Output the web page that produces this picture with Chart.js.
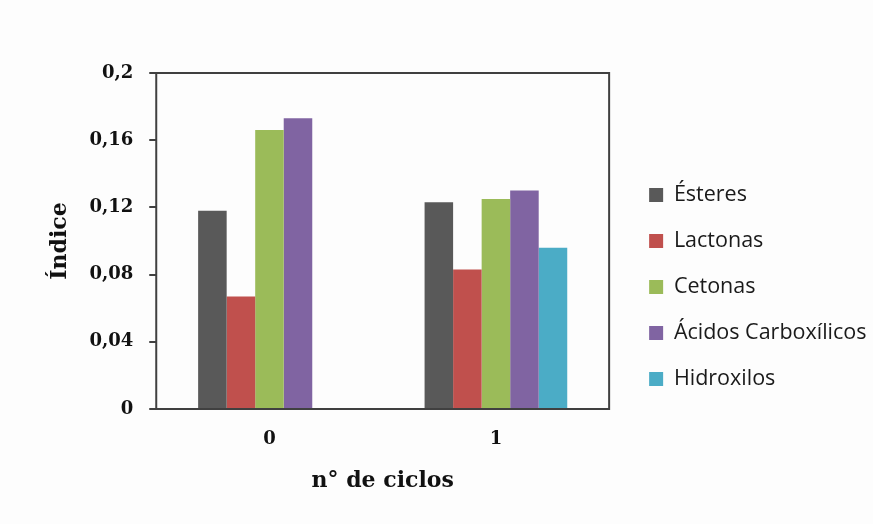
<!DOCTYPE html>
<html lang="es">
<head>
    <meta charset="UTF-8">
    <title>Índice vs nº de ciclos</title>
    <script src="https://cdn.jsdelivr.net/npm/chart.js"></script>
    <style>
        html, body { margin: 0; padding: 0; background: #fdfdfd; }
        canvas { display: block; }
    </style>
</head>
<body>
    <canvas id="indexChart" width="873" height="524"></canvas>

    <script>
        // datos
        const ciclos = ["0", "1"];
        const esteres = [0.118, 0.123];
        const lactonas = [0.067, 0.083];
        const cetonas = [0.166, 0.125];
        const acidos = [0.173, 0.130];
        const hidroxilos = [null, 0.096];
        const yTickLabels = ["0", "0,04", "0,08", "0,12", "0,16", "0,2"];

        const axisColor = '#404040';
        const serif = "'DejaVu Serif', serif";

        // marco completo alrededor del area del grafico
        const plotFrame = {
            id: 'plotFrame',
            afterDraw(chart) {
                const a = chart.chartArea;
                const ctx = chart.ctx;
                ctx.save();
                ctx.strokeStyle = axisColor;
                ctx.lineWidth = 2;
                ctx.strokeRect(a.left, a.top, a.right - a.left, a.bottom - a.top);
                ctx.restore();
            }
        };

        // separa un poco la leyenda del area del grafico
        const legendShift = {
            id: 'legendShift',
            afterLayout(chart) {
                chart.legend.left += 15.5;
                chart.legend.right = chart.width;
            }
        };

        const ctx = document.getElementById('indexChart').getContext('2d');
        const chart = new Chart(ctx, {
            type: 'bar',
            data: {
                labels: ciclos,
                datasets: [
                    { label: 'Ésteres', data: esteres, backgroundColor: '#595959' },
                    { label: 'Lactonas', data: lactonas, backgroundColor: '#c0504d' },
                    { label: 'Cetonas', data: cetonas, backgroundColor: '#9bbb59' },
                    { label: 'Ácidos Carboxílicos', data: acidos, backgroundColor: '#8064a2' },
                    { label: 'Hidroxilos', data: hidroxilos, backgroundColor: '#4bacc6' }
                ]
            },
            options: {
                responsive: false,
                animation: false,
                devicePixelRatio: 1,
                categoryPercentage: 0.63,
                barPercentage: 1.0,
                layout: { padding: { left: 30, top: 73, right: 12, bottom: 23 } },
                plugins: {
                    tooltip: { enabled: false },
                    legend: {
                        position: 'right',
                        align: 'center',
                        maxWidth: 320,
                        labels: {
                            boxWidth: 14,
                            boxHeight: 14,
                            padding: 24.5,
                            color: '#1a1a1a',
                            font: { family: "'Open Sans', sans-serif", size: 21.5 }
                        }
                    }
                },
                scales: {
                    x: {
                        grid: { display: false, drawTicks: false },
                        border: { display: false },
                        ticks: { color: '#111', padding: 20, font: { family: serif, size: 18, weight: 'bold' } },
                        title: {
                            display: true,
                            text: 'n° de ciclos',
                            color: '#111',
                            padding: { top: -3, bottom: 7 },
                            font: { family: serif, size: 22, weight: 'bold' }
                        }
                    },
                    y: {
                        min: 0,
                        max: 0.2,
                        ticks: {
                            stepSize: 0.04,
                            color: '#111',
                            padding: 16,
                            font: { family: serif, size: 18, weight: 'bold' },
                            callback: (value, index) => yTickLabels[index]
                        },
                        grid: { drawOnChartArea: false, drawTicks: true, tickLength: 7, color: axisColor, lineWidth: 2 },
                        border: { display: false },
                        title: {
                            display: true,
                            text: 'Índice',
                            color: '#111',
                            padding: { top: 17, bottom: 0 },
                            font: { family: serif, size: 22, weight: 'bold' }
                        }
                    }
                }
            },
            plugins: [plotFrame, legendShift]
        });
    </script>
</body>
</html>
